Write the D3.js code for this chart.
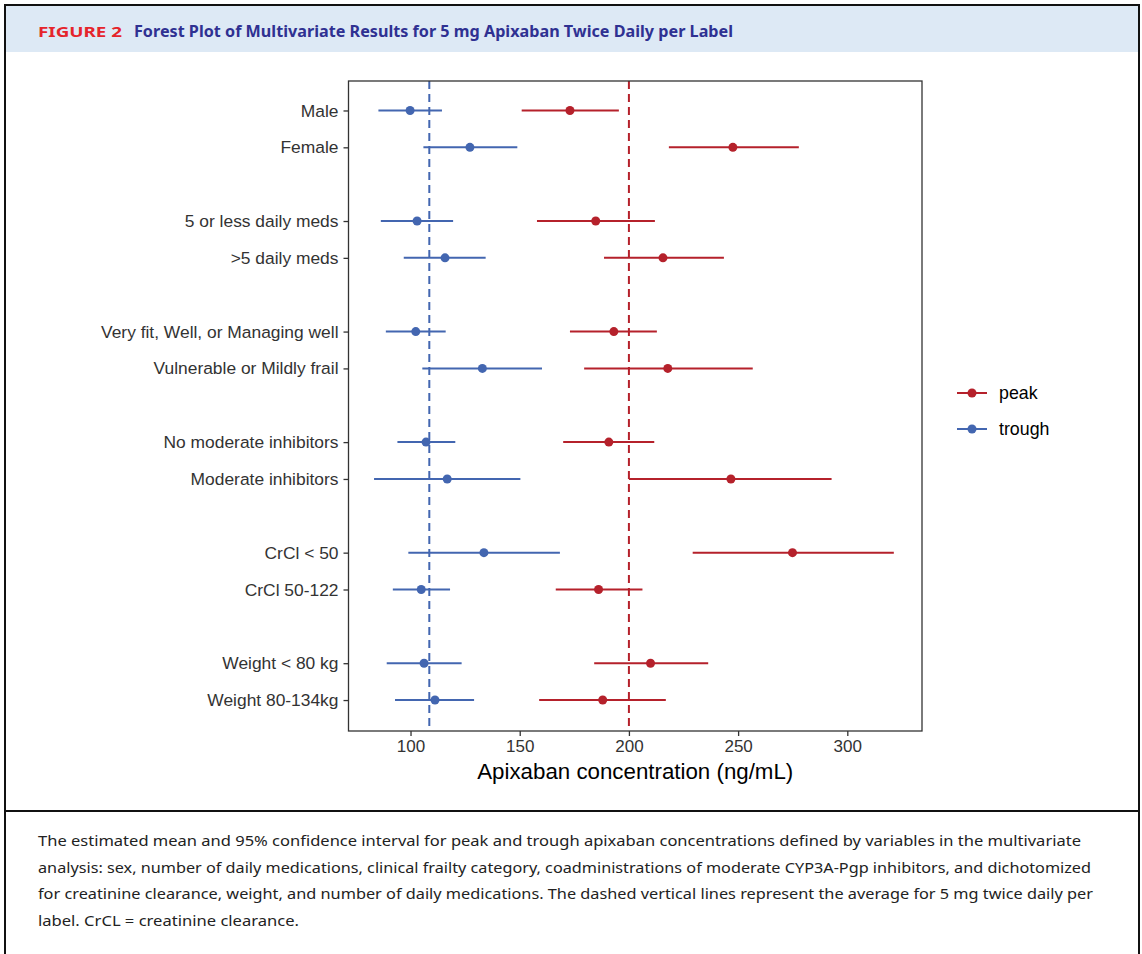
<!DOCTYPE html>
<html>
<head>
<meta charset="utf-8">
<script src="https://cdn.jsdelivr.net/npm/d3@7"></script>
<style>
  body { margin: 0; background: #fff; }
  svg { display: block; }
</style>
</head>
<body>
<svg id="fig"></svg>
<script>
// rows, top to bottom (blank rows between groups are left out, index keeps the gap)
var labels = ["Male", "Female", "5 or less daily meds", ">5 daily meds",
  "Very fit, Well, or Managing well", "Vulnerable or Mildly frail",
  "No moderate inhibitors", "Moderate inhibitors", "CrCl < 50", "CrCl 50-122",
  "Weight < 80 kg", "Weight 80-134kg"];
var rowIndex = [0, 1, 3, 4, 6, 7, 9, 10, 12, 13, 15, 16];

var troughMean = [99.8, 127.2, 103.0, 115.8, 102.4, 132.9, 107.1, 116.8, 133.6, 104.9, 106.2, 111.2];
var troughLow  = [85.3, 105.9, 86.4, 96.9, 88.7, 105.4, 94.0, 83.3, 99.0, 91.9, 89.1, 92.9];
var troughHigh = [114.4, 148.9, 119.5, 134.4, 116.1, 160.2, 120.5, 150.3, 168.4, 118.1, 123.4, 129.1];

var peakMean = [173.0, 247.6, 184.8, 215.6, 193.1, 217.8, 190.8, 246.7, 274.9, 186.1, 209.9, 188.0];
var peakLow  = [150.9, 218.3, 157.9, 188.6, 173.0, 179.5, 169.9, 200.0, 229.2, 166.5, 184.1, 158.9];
var peakHigh = [195.4, 277.8, 211.9, 243.5, 212.8, 256.7, 211.6, 292.8, 321.3, 206.2, 236.3, 216.9];

var refLines = [108.6, 200]; // trough, peak averages
var xTicks = [100, 150, 200, 250, 300];
var seriesNames = ["peak", "trough"];

var captionLines = [
  "The estimated mean and 95% confidence interval for peak and trough apixaban concentrations defined by variables in the multivariate",
  "analysis: sex, number of daily medications, clinical frailty category, coadministrations of moderate CYP3A-Pgp inhibitors, and dichotomized",
  "for creatinine clearance, weight, and number of daily medications. The dashed vertical lines represent the average for 5 mg twice daily per",
  "label. CrCL = creatinine clearance."
];
var captionEnds = [1081, 1091, 1093, 299];

var RED = "#b5212b", BLUE = "#4366b0";

var W = 1142, H = 954;
var svg = d3.select("#fig").attr("width", W).attr("height", H);

// header band + frame
svg.append("rect").attr("x", 6).attr("y", 6).attr("width", 1132).attr("height", 46).attr("fill", "#dde9f5");
var frame = svg.append("g").attr("stroke", "#111").attr("stroke-width", 2);
frame.append("line").attr("x1", 5).attr("x2", 1139).attr("y1", 5).attr("y2", 5);
frame.append("line").attr("x1", 5).attr("x2", 5).attr("y1", 4).attr("y2", H);
frame.append("line").attr("x1", 1139).attr("x2", 1139).attr("y1", 4).attr("y2", H);
frame.append("line").attr("x1", 5).attr("x2", 1139).attr("y1", 811).attr("y2", 811);

svg.append("text")
  .attr("x", 38).attr("y", 37)
  .attr("font-family", "Noto Sans, sans-serif").attr("font-weight", "bold")
  .attr("font-size", 14).attr("fill", "#e5242b")
  .attr("textLength", 84).attr("lengthAdjust", "spacingAndGlyphs")
  .text("FIGURE 2");
svg.append("text")
  .attr("x", 134).attr("y", 37)
  .attr("font-family", "Noto Sans, sans-serif").attr("font-weight", "bold")
  .attr("font-size", 15.5).attr("fill", "#2f3192")
  .attr("textLength", 599).attr("lengthAdjust", "spacingAndGlyphs")
  .text("Forest Plot of Multivariate Results for 5 mg Apixaban Twice Daily per Label");

// caption
svg.selectAll(".cap")
  .data(captionLines)
  .enter()
  .append("text")
  .attr("class", "cap")
  .attr("x", 38)
  .attr("y", (d, i) => 846 + i * 26.5)
  .attr("font-family", "Noto Sans, sans-serif")
  .attr("font-size", 15)
  .attr("fill", "#222")
  .attr("textLength", (d, i) => captionEnds[i] - 38)
  .attr("lengthAdjust", "spacingAndGlyphs")
  .text(d => d);

// plot panel
var pLeft = 348.5, pRight = 922, pTop = 81, pBottom = 731;

var x = d3.scaleLinear().domain([71.6, 334.2]).range([pLeft, pRight]);
var y = d3.scaleLinear().domain([-0.8, 16.84]).range([pTop, pBottom]);

var g = svg.append("g");

// dashed reference lines
g.selectAll(".ref")
  .data(refLines)
  .enter()
  .append("line")
  .attr("class", "ref")
  .attr("x1", d => x(d)).attr("x2", d => x(d))
  .attr("y1", pTop).attr("y2", pBottom)
  .attr("stroke", (d, i) => i == 0 ? BLUE : RED)
  .attr("stroke-width", 2)
  .attr("stroke-dasharray", "8,5");

function drawSeries(mean, lo, hi, color) {
  var rows = mean.map((m, i) => ({ m: m, lo: lo[i], hi: hi[i], r: rowIndex[i] }));
  g.selectAll(null)
    .data(rows)
    .enter()
    .append("line")
    .attr("x1", d => x(d.lo)).attr("x2", d => x(d.hi))
    .attr("y1", d => y(d.r)).attr("y2", d => y(d.r))
    .attr("stroke", color).attr("stroke-width", 2);
  g.selectAll(null)
    .data(rows)
    .enter()
    .append("circle")
    .attr("cx", d => x(d.m)).attr("cy", d => y(d.r))
    .attr("r", 4.5)
    .attr("fill", color);
}
drawSeries(troughMean, troughLow, troughHigh, BLUE);
drawSeries(peakMean, peakLow, peakHigh, RED);

// panel border
svg.append("rect")
  .attr("x", pLeft).attr("y", pTop)
  .attr("width", pRight - pLeft).attr("height", pBottom - pTop)
  .attr("fill", "none").attr("stroke", "#333").attr("stroke-width", 1.3);

// y axis
var yAxis = svg.append("g")
  .attr("transform", "translate(" + pLeft + ",0)")
  .call(d3.axisLeft(y).tickValues(rowIndex).tickSize(5).tickPadding(5)
    .tickFormat((d, i) => labels[i]));
yAxis.select(".domain").remove();
yAxis.selectAll("line").attr("stroke", "#333").attr("stroke-width", 1.3);
yAxis.selectAll("text")
  .attr("font-family", "Liberation Sans, Arial, sans-serif")
  .attr("font-size", 17.4).attr("fill", "#333");

// x axis
var xAxis = svg.append("g")
  .attr("transform", "translate(0," + pBottom + ")")
  .call(d3.axisBottom(x).tickValues(xTicks).tickSize(5).tickPadding(4));
xAxis.select(".domain").remove();
xAxis.selectAll("line").attr("stroke", "#333").attr("stroke-width", 1.3);
xAxis.selectAll("text")
  .attr("font-family", "Liberation Sans, Arial, sans-serif")
  .attr("font-size", 17).attr("fill", "#333");

svg.append("text")
  .attr("x", (pLeft + pRight) / 2).attr("y", 779)
  .attr("text-anchor", "middle")
  .attr("font-family", "Liberation Sans, Arial, sans-serif")
  .attr("font-size", 22.3).attr("fill", "#000")
  .text("Apixaban concentration (ng/mL)");

// legend
var legend = svg.append("g").attr("transform", "translate(957,393)");
var items = legend.selectAll("g")
  .data(seriesNames)
  .enter()
  .append("g")
  .attr("transform", (d, i) => "translate(0," + i * 36 + ")");
items.append("line")
  .attr("x1", 0).attr("x2", 30)
  .attr("stroke", (d, i) => i == 0 ? RED : BLUE).attr("stroke-width", 2);
items.append("circle")
  .attr("cx", 15).attr("r", 4.5)
  .attr("fill", (d, i) => i == 0 ? RED : BLUE);
items.append("text")
  .attr("x", 42).attr("dy", "0.35em")
  .attr("font-family", "Liberation Sans, Arial, sans-serif")
  .attr("font-size", 17.8).attr("fill", "#000")
  .text(d => d);
</script>
</body>
</html>
